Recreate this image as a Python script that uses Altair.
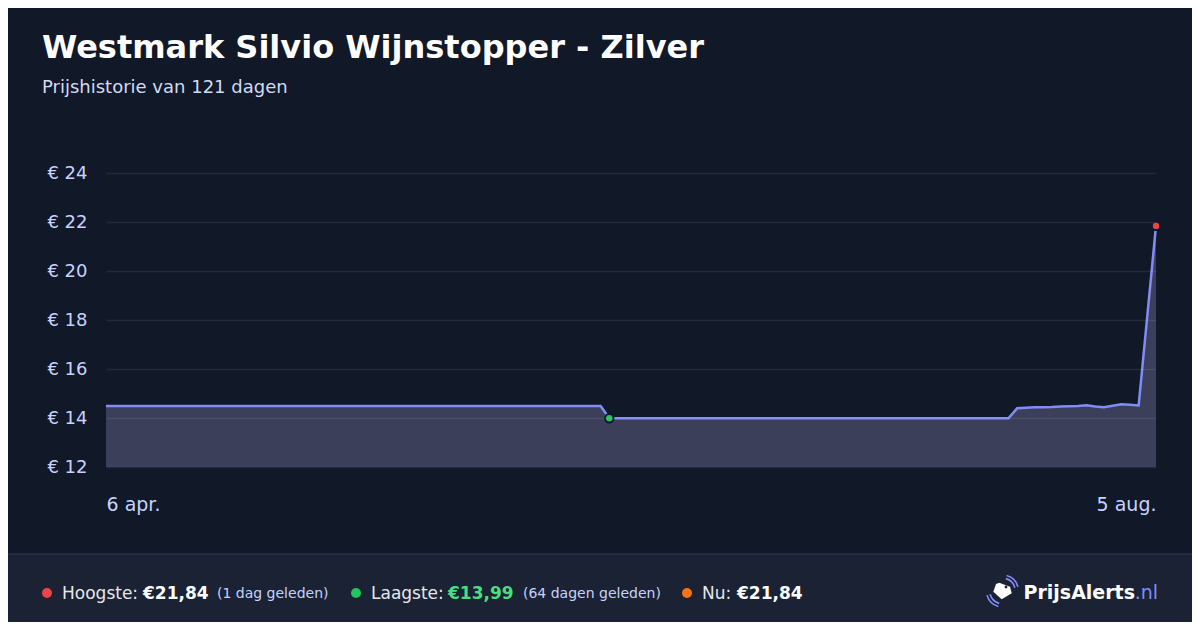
import altair as alt
import pandas as pd

# ---- data ----
start_date = "2025-04-06"
end_date = "2025-08-05"
dates = [d.strftime("%Y-%m-%d") for d in pd.date_range(start_date, end_date) if d.strftime("%Y-%m-%d") != "2025-08-04"]
prices = ([14.49] * 58 + [13.99] * 47 +
          [14.40, 14.42, 14.44, 14.44, 14.45, 14.47, 14.48, 14.49, 14.52, 14.47,
           14.44, 14.50, 14.56, 14.54, 14.51] + [21.84])
x_tick_labels = ["6 apr.", "5 aug."]
y_ticks = [12, 14, 16, 18, 20, 22, 24]
title_text = "Westmark Silvio Wijnstopper - Zilver"
subtitle_text = "Prijshistorie van 121 dagen"
high_ago = "(1 dag geleden)"
low_ago = "(64 dagen geleden)"

t0 = pd.Timestamp(start_date)
days = [(pd.Timestamp(d) - t0).days for d in dates]
span = (pd.Timestamp(end_date) - t0).days
df = pd.DataFrame({"day": days, "price": prices, "date": dates})

hi = max(prices)
lo = min(prices)
now = prices[-1]
lo_idx = prices.index(lo)
hi_idx = len(prices) - 1 - prices[::-1].index(hi)
fmt = lambda v: "€" + f"{v:.2f}".replace(".", ",")

BG = "#111827"
W, H = 1050, 294
PL, PT = 98, 165          # plot origin at page (106, 173) after the 8px page margin
TOTAL_W, TOTAL_H = 1184, 614

xs = alt.Scale(domain=[0, span], nice=False, zero=False)
ys = alt.Scale(domain=[12, 24], nice=False, zero=False)

label_expr = "datum.value == 0 ? '%s' : '%s'" % (x_tick_labels[0], x_tick_labels[1])

base = alt.Chart(df)
area = base.mark_area(color="#3c3f5a", opacity=1).encode(
    x=alt.X("day:Q", scale=xs, axis=alt.Axis(values=[0, span], labelExpr=label_expr, labelFlush=True,
                                              grid=False, ticks=False, domain=False, labelFontSize=19,
                                              labelColor="#c7d2fe", labelPadding=28, title=None,
                                              labelFont="DejaVu Sans")),
    y=alt.Y("price:Q", scale=ys, axis=alt.Axis(values=y_ticks, labelExpr="'€ ' + datum.value",
                                                grid=True, gridColor="#ffffff", gridOpacity=0.08,
                                                gridWidth=1.5, ticks=False, domain=False,
                                                labelFontSize=18, labelColor="#c7d2fe", labelPadding=19,
                                                title=None, zindex=1, labelFont="DejaVu Sans")),
    y2=alt.datum(12),
)
line = base.mark_line(color="#818cf8", strokeWidth=2.5).encode(
    x=alt.X("day:Q", scale=xs), y=alt.Y("price:Q", scale=ys))

pts_df = pd.DataFrame({"day": [days[lo_idx], days[hi_idx]], "price": [lo, hi],
                       "kind": ["low", "high"]})
pts = alt.Chart(pts_df).mark_point(filled=True, size=70, opacity=1, stroke=BG, strokeWidth=2).encode(
    x=alt.X("day:Q", scale=xs), y=alt.Y("price:Q", scale=ys),
    fill=alt.Fill("kind:N", scale=alt.Scale(domain=["low", "high"], range=["#22c55e", "#ef4444"]), legend=None),
)

one = pd.DataFrame({"a": [0]})
def txt(text, x, y, size, color, weight="normal", align="left"):
    return alt.Chart(one).mark_text(text=text, align=align, baseline="alphabetic", fontSize=size,
                                    font="DejaVu Sans", fontWeight=weight, color=color).encode(
        x=alt.value(x - 106), y=alt.value(y - 173))

def dot(x, y, color, size=100):
    return alt.Chart(one).mark_point(filled=True, shape="circle", size=size, opacity=1, color=color).encode(
        x=alt.value(x - 106), y=alt.value(y - 173))

footer_bg = alt.Chart(one).mark_rect(color="#1a2233").encode(
    x=alt.value(-120), x2=alt.value(1120), y=alt.value(554 - 173), y2=alt.value(660 - 173))
footer_line = alt.Chart(one).mark_rule(color="#27304d", strokeWidth=1.5).encode(
    x=alt.value(-120), x2=alt.value(1120), y=alt.value(554 - 173))

FY = 599
layers = [
    footer_bg, footer_line, area, line, pts,
    txt(title_text, 42, 58, 32, "#ffffff", "bold"),
    txt(subtitle_text, 42, 93, 18, "#d3daf5"),
    dot(47, 593, "#ef4444"),
    txt("Hoogste:", 62, FY, 17, "#e5e7eb"),
    txt(fmt(hi), 143, FY, 17, "#ffffff", "bold"),
    txt(high_ago, 217, FY - 1, 14, "#c7d2fe"),
    dot(356, 593, "#22c55e"),
    txt("Laagste:", 371, FY, 17, "#e5e7eb"),
    txt(fmt(lo), 448, FY, 17, "#4ade80", "bold"),
    txt(low_ago, 523, FY - 1, 14, "#c7d2fe"),
    dot(687, 593, "#f97316"),
    txt("Nu:", 702, FY, 17, "#e5e7eb"),
    txt(fmt(now), 737, FY, 17, "#ffffff", "bold"),
    txt(".nl", 1158, FY, 19, "#818cf8", "normal", "right"),
    txt("PrijsAlerts", 1135, FY, 19, "#ffffff", "bold", "right"),
]

# logo icon
tag_path = "M -0.32 -0.83 L 0.75 -0.43 L 0.92 0.23 L -0.08 0.83 L -0.92 0.07 L -0.65 -0.7 Z"
arc_path = ("M 0.207 -0.773 A 0.8 0.8 0 0 1 0.773 -0.207 "
            "M 0.259 -0.966 A 1 1 0 0 1 0.966 -0.259 "
            "M -0.207 0.773 A 0.8 0.8 0 0 1 -0.773 0.207 "
            "M -0.259 0.966 A 1 1 0 0 1 -0.966 0.259")
tag = alt.Chart(one).mark_point(filled=True, shape=tag_path, size=400, opacity=1, color="#ffffff").encode(
    x=alt.value(1002.5 - 106), y=alt.value(591 - 173))
hole = alt.Chart(one).mark_point(filled=True, shape="circle", size=8, opacity=1, color="#1a2233").encode(
    x=alt.value(1006 - 106), y=alt.value(587 - 173))
arcs = alt.Chart(one).mark_point(filled=False, shape=arc_path, size=1024, opacity=1, stroke="#818cf8",
                                 strokeWidth=1.6).encode(
    x=alt.value(1002.5 - 106), y=alt.value(591 - 173))
layers += [tag, hole, arcs]

chart = alt.layer(*layers).properties(
    width=W, height=H,
    autosize=alt.AutoSizeParams(type="none"),
    padding={"left": PL, "top": PT, "right": TOTAL_W - PL - W, "bottom": TOTAL_H - PT - H},
    background=BG,
).configure_view(stroke=None)

chart.save("out.html", embed_options={"renderer": "svg", "actions": False})
